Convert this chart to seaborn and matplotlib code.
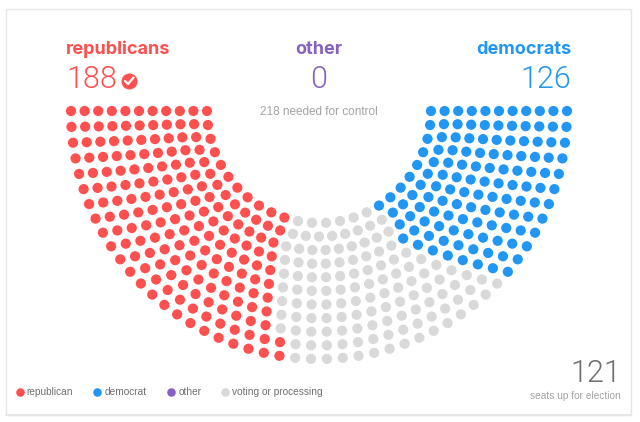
import numpy as np
import pandas as pd
import seaborn as sns
import matplotlib.pyplot as plt
from matplotlib.patches import Rectangle

# seats in each row, outer row first
row_seats = [50, 48, 46, 44, 42, 40, 38, 36, 34, 31, 26]
# how many of those are filled from the left (rep) and from the right (dem)
rep_seats = [23, 22, 20, 19, 18, 17, 16, 15, 14, 13, 11]
dem_seats = [12, 12, 12, 12, 12, 12, 12, 12, 11, 10, 9]

parties = ['republican', 'democrat', 'other', 'voting or processing']
colors = ['#FF5050', '#2196F3', '#8661C1', '#D9D9D9']
palette = dict(zip(parties, colors))

RED, BLUE, PURPLE, GREY = colors
TEXT_DARK = '#707070'
TEXT_LIGHT = '#A3A3A3'
HEAD_FONT = 'Inter'
SMALL_FONT = 'Liberation Sans'

# arc geometry, in pixels
cx, cy = 319, 111
r_outer, r_step = 248, 13.6

rows = []
for i, n in enumerate(row_seats):
    r = r_outer - i * r_step
    for j in range(n):
        a = np.pi * j / (n - 1)
        if j < rep_seats[i]:
            party = 'republican'
        elif j >= n - dem_seats[i]:
            party = 'democrat'
        else:
            party = 'voting or processing'
        rows.append((cx - r * np.cos(a), cy + r * np.sin(a), party))
seats = pd.DataFrame(rows, columns=['x', 'y', 'party'])

sns.set_theme(style='white')
plt.rcParams['font.family'] = ['Roboto', 'DejaVu Sans']

fig = plt.figure(figsize=(6.4, 4.22), dpi=100)
ax = fig.add_axes([0, 0, 1, 1])
ax.set_xlim(0, 640)
ax.set_ylim(422, 0)
ax.axis('off')

# card
ax.add_patch(Rectangle((6, 9), 625, 406, fc='white', ec='#E6E6E6', lw=1))
ax.plot([6, 631], [415, 415], color='#E6E6E6', lw=1.6)

sns.scatterplot(data=seats, x='x', y='y', hue='party', palette=palette,
                s=54, linewidth=0, legend=False, ax=ax)

# headers
head = dict(fontsize=13, fontweight='bold', va='baseline', family=HEAD_FONT)
ax.text(66, 54, 'republicans', color=RED, ha='left', **head)
ax.text(319, 54, 'other', color=PURPLE, ha='center', **head)
ax.text(571.5, 54, 'democrats', color=BLUE, ha='right', **head)

big = dict(fontsize=22, fontweight=300, va='baseline')
ax.text(66, 88.5, '188', color=RED, ha='left', **big)
ax.text(319, 88.5, '0', color=PURPLE, ha='center', **big)
ax.text(571, 88.5, '126', color=BLUE, ha='right', **big)

# check mark after the winning count
ax.scatter([129], [80.7], s=133, color=RED, linewidth=0)
ax.plot([125, 128, 133.5], [81, 84, 77.5], color='white', lw=1.6)

ax.text(319, 115, '218 needed for control', color=TEXT_LIGHT, fontsize=8.5,
        ha='center', va='baseline', family=SMALL_FONT)

# legend
legend_x = [19.5, 97, 171, 225]
for name, col, lx in zip(parties, colors, legend_x):
    ax.scatter([lx], [391.5], s=38, color=col, linewidth=0)
    ax.text(lx + 7.3, 395, name, color=TEXT_DARK, fontsize=7.3, ha='left', va='baseline',
            family=SMALL_FONT)

# seats up
ax.text(621, 382, '121', color=TEXT_DARK, fontsize=22, fontweight=300, ha='right', va='baseline')
ax.text(621, 398.7, 'seats up for election', color=TEXT_LIGHT, fontsize=7.3, ha='right',
        va='baseline', family=SMALL_FONT)

fig.savefig('out.png', dpi=100)
